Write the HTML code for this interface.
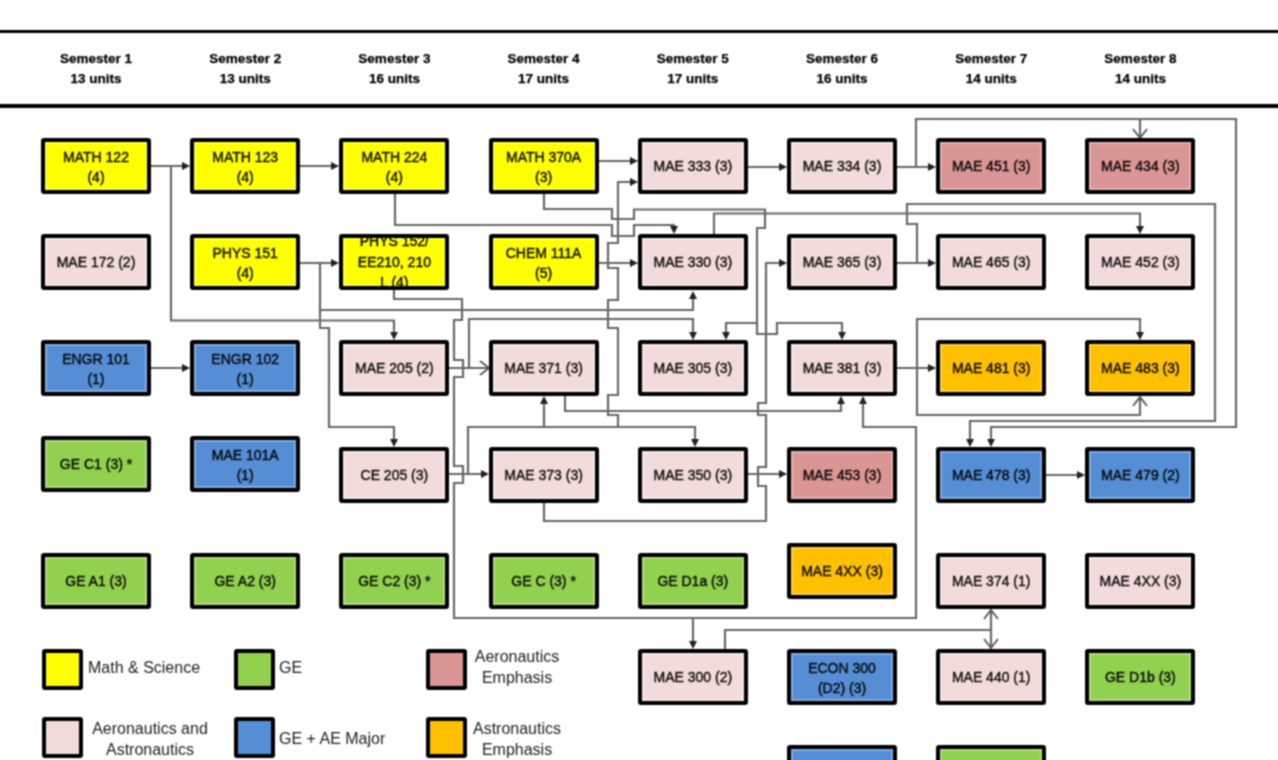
<!DOCTYPE html>
<html><head><meta charset="utf-8"><style>
html,body{margin:0;padding:0;background:#fff;}
body{width:1278px;height:760px;position:relative;overflow:hidden;font-family:"Liberation Sans",sans-serif;}
.hl{position:absolute;left:0;width:1278px;background:#000;}
.sem{position:absolute;width:150px;text-align:center;font-weight:bold;font-size:13.5px;line-height:20px;color:#000;-webkit-text-stroke:0.25px #000;}
.b{position:absolute;box-sizing:border-box;width:110px;height:56px;border:4px solid #000;border-radius:3px;box-shadow:inset 0 0 0 2px rgba(255,255,255,0.25);display:flex;align-items:center;justify-content:center;text-align:center;font-size:14px;line-height:21px;color:rgba(0,0,0,0.92);-webkit-text-stroke:0.4px rgba(0,0,0,0.92);}
.b3{line-height:20.5px;overflow:hidden;}
.b2{padding-top:2px;line-height:20px;}
.lg{position:absolute;box-sizing:border-box;width:41px;height:41px;border:4px solid #000;border-radius:3px;}
.lt{position:absolute;font-size:16px;line-height:21px;color:#1e1e1e;text-align:center;}
svg{position:absolute;left:0;top:0;}
#w{position:absolute;left:0;top:0;width:1278px;height:760px;background:#fff;filter:url(#soft);}
</style></head><body><svg width="0" height="0" style="position:absolute;left:0;top:0"><filter id="soft" x="0" y="0" width="1278" height="760" filterUnits="userSpaceOnUse" color-interpolation-filters="sRGB"><feConvolveMatrix order="3" kernelMatrix="1 2 1 2 4 2 1 2 1" divisor="16" edgeMode="duplicate"/></filter></svg><div id="w">

<div class="hl" style="top:30px;height:3px"></div>
<div class="hl" style="top:103.5px;height:4px"></div>
<div class="sem" style="left:21.0px;top:49px">Semester 1<br>13 units</div>
<div class="sem" style="left:170.2px;top:49px">Semester 2<br>13 units</div>
<div class="sem" style="left:319.4px;top:49px">Semester 3<br>16 units</div>
<div class="sem" style="left:468.6px;top:49px">Semester 4<br>17 units</div>
<div class="sem" style="left:617.8px;top:49px">Semester 5<br>17 units</div>
<div class="sem" style="left:767.0px;top:49px">Semester 6<br>16 units</div>
<div class="sem" style="left:916.2px;top:49px">Semester 7<br>14 units</div>
<div class="sem" style="left:1065.4px;top:49px">Semester 8<br>14 units</div>
<svg width="1278" height="760" viewBox="0 0 1278 760">
<g fill="none" stroke="#686868" stroke-width="2.2" stroke-linejoin="miter">
<path d="M151,166 L186,166"/>
<path d="M171,166 L171,320.5 L394,320.5 L394,334"/>
<path d="M151,368 L184,368"/>
<path d="M300,166 L335,166"/>
<path d="M300,263 L335,263"/>
<path d="M320,263 L320,310 L693,310 L693,297"/>
<path d="M320,310 L320,328 L329,328 L329,427 L394,427 L394,441"/>
<path d="M395,194 L395,225 L612,225 L612,236 L634,236 L634,225 L674,225 L674,228"/>
<path d="M599,161 L632,161"/>
<path d="M544,194 L544,209 L612,209 L612,219 L634,219 L634,209.5 L765,209.5 L765,213.5 L1140,213.5 L1140,228"/>
<path d="M714,234 L714,213.5 L765,213.5"/>
<path d="M765,212 L765,228 L757,228 L757,323 L726,323 L726,334"/>
<path d="M757,323 L757,334 L777,334 L777,323 L842,323 L842,334"/>
<path d="M599,263 L632,263"/>
<path d="M618,427 L618,415 L608,415 L608,395 L618,395 L618,328 L608,328 L608,300 L618,300 L618,268 L608,268 L608,243 L618,243 L618,182 L632,182"/>
<path d="M748,167 L781,167"/>
<path d="M897,167 L930,167"/>
<path d="M916,167 L916,119 L1236,119 L1236,427 L991,427 L991,441"/>
<path d="M1140,119 L1140,136"/>
<path d="M897,263 L930,263"/>
<path d="M917,263 L917,224 L907,224 L907,204 L1215,204 L1215,421 L970,421 L970,441"/>
<path d="M897,368 L930,368"/>
<path d="M917,368 L917,319 L1140,319 L1140,334"/>
<path d="M917,368 L917,415 L1140,415 L1140,398"/>
<path d="M1046,475 L1079,475"/>
<path d="M991,611 L991,647"/>
<path d="M725,649 L725,630 L991,630"/>
<path d="M394,290 L394,299 L462,299 L462,320 L454,320 L454,360 L463,360 L463,377 L454,377 L454,466 L463,466 L463,483 L454,483 L454,618 L916,618 L916,427 L863,427 L863,402"/>
<path d="M693,618 L693,643"/>
<path d="M449,368 L489,368"/>
<path d="M449,474 L483,474"/>
<path d="M469,368 L469,319 L693,319 L693,334"/>
<path d="M468,474 L468,427 L695,427 L695,441"/>
<path d="M544,427 L544,402"/>
<path d="M565,396 L565,411 L841,411 L841,402"/>
<path d="M544,503 L544,521 L766,521 L766,486 L758,486 L758,467 L766,467 L766,415 L758,415 L758,403 L766,403 L766,263 L781,263"/>
<path d="M748,474 L781,474"/>
</g>
<polygon points="190,166 182,162.0 182,170.0" fill="#222"/>
<polygon points="394,340 390.0,332 398.0,332" fill="#222"/>
<polygon points="190,368 182,364.0 182,372.0" fill="#222"/>
<polygon points="339,166 331,162.0 331,170.0" fill="#222"/>
<polygon points="339,263 331,259.0 331,267.0" fill="#222"/>
<polygon points="693,291 689.0,299 697.0,299" fill="#222"/>
<polygon points="394,447 390.0,439 398.0,439" fill="#222"/>
<polygon points="674,234 670.0,226 678.0,226" fill="#222"/>
<polygon points="638,161 630,157.0 630,165.0" fill="#222"/>
<polygon points="1140,234 1136.0,226 1144.0,226" fill="#222"/>
<polygon points="726,340 722.0,332 730.0,332" fill="#222"/>
<polygon points="842,340 838.0,332 846.0,332" fill="#222"/>
<polygon points="638,263 630,259.0 630,267.0" fill="#222"/>
<polygon points="638,182 630,178.0 630,186.0" fill="#222"/>
<polygon points="787,167 779,163.0 779,171.0" fill="#222"/>
<polygon points="936,167 928,163.0 928,171.0" fill="#222"/>
<polygon points="991,447 987.0,439 995.0,439" fill="#222"/>
<path d="M1133,129 L1140,138 L1147,129" fill="none" stroke="#555" stroke-width="1.8"/>
<polygon points="936,263 928,259.0 928,267.0" fill="#222"/>
<polygon points="970,447 966.0,439 974.0,439" fill="#222"/>
<polygon points="936,368 928,364.0 928,372.0" fill="#222"/>
<polygon points="1140,340 1136.0,332 1144.0,332" fill="#222"/>
<path d="M1133,406 L1140,397 L1147,406" fill="none" stroke="#555" stroke-width="1.8"/>
<polygon points="1085,475 1077,471.0 1077,479.0" fill="#222"/>
<path d="M984,619 L991,610 L998,619" fill="none" stroke="#555" stroke-width="1.8"/>
<path d="M984,639 L991,648 L998,639" fill="none" stroke="#555" stroke-width="1.8"/>
<polygon points="863,396 859.0,404 867.0,404" fill="#222"/>
<polygon points="693,649 689.0,641 697.0,641" fill="#222"/>
<path d="M480,361 L489,368 L480,375" fill="none" stroke="#555" stroke-width="1.8"/>
<polygon points="489,474 481,470.0 481,478.0" fill="#222"/>
<polygon points="693,340 689.0,332 697.0,332" fill="#222"/>
<polygon points="695,447 691.0,439 699.0,439" fill="#222"/>
<polygon points="544,396 540.0,404 548.0,404" fill="#222"/>
<polygon points="841,396 837.0,404 845.0,404" fill="#222"/>
<polygon points="787,263 779,259.0 779,267.0" fill="#222"/>
<polygon points="787,474 779,470.0 779,478.0" fill="#222"/>
</svg>
<div class="b b2" style="left:41.0px;top:138px;background:#FFFF00">MATH 122<br>(4)</div>
<div class="b" style="left:41.0px;top:234px;background:#F2DCDB">MAE 172 (2)</div>
<div class="b b2" style="left:41.0px;top:340px;background:#558ED5">ENGR 101<br>(1)</div>
<div class="b" style="left:41.0px;top:436px;background:#92D050">GE C1 (3) *</div>
<div class="b" style="left:41.0px;top:553px;background:#92D050">GE A1 (3)</div>
<div class="b b2" style="left:190.2px;top:138px;background:#FFFF00">MATH 123<br>(4)</div>
<div class="b b2" style="left:190.2px;top:234px;background:#FFFF00">PHYS 151<br>(4)</div>
<div class="b b2" style="left:190.2px;top:340px;background:#558ED5">ENGR 102<br>(1)</div>
<div class="b b2" style="left:190.2px;top:436px;background:#558ED5">MAE 101A<br>(1)</div>
<div class="b" style="left:190.2px;top:553px;background:#92D050">GE A2 (3)</div>
<div class="b b2" style="left:339.4px;top:138px;background:#FFFF00">MATH 224<br>(4)</div>
<div class="b b3" style="left:339.4px;top:234px;background:#FFFF00">PHYS 152/<br>EE210, 210<br>L (4)</div>
<div class="b" style="left:339.4px;top:340px;background:#F2DCDB">MAE 205 (2)</div>
<div class="b" style="left:339.4px;top:447px;background:#F2DCDB">CE 205 (3)</div>
<div class="b" style="left:339.4px;top:553px;background:#92D050">GE C2 (3) *</div>
<div class="b b2" style="left:488.6px;top:138px;background:#FFFF00">MATH 370A<br>(3)</div>
<div class="b b2" style="left:488.6px;top:234px;background:#FFFF00">CHEM 111A<br>(5)</div>
<div class="b" style="left:488.6px;top:340px;background:#F2DCDB">MAE 371 (3)</div>
<div class="b" style="left:488.6px;top:447px;background:#F2DCDB">MAE 373 (3)</div>
<div class="b" style="left:488.6px;top:553px;background:#92D050">GE C (3) *</div>
<div class="b" style="left:637.8px;top:138px;background:#F2DCDB">MAE 333 (3)</div>
<div class="b" style="left:637.8px;top:234px;background:#F2DCDB">MAE 330 (3)</div>
<div class="b" style="left:637.8px;top:340px;background:#F2DCDB">MAE 305 (3)</div>
<div class="b" style="left:637.8px;top:447px;background:#F2DCDB">MAE 350 (3)</div>
<div class="b" style="left:637.8px;top:553px;background:#92D050">GE D1a (3)</div>
<div class="b" style="left:637.8px;top:649px;background:#F2DCDB">MAE 300 (2)</div>
<div class="b" style="left:787.0px;top:138px;background:#F2DCDB">MAE 334 (3)</div>
<div class="b" style="left:787.0px;top:234px;background:#F2DCDB">MAE 365 (3)</div>
<div class="b" style="left:787.0px;top:340px;background:#F2DCDB">MAE 381 (3)</div>
<div class="b" style="left:787.0px;top:447px;background:#D99694">MAE 453 (3)</div>
<div class="b" style="left:787.0px;top:543px;background:#FFC000">MAE 4XX (3)</div>
<div class="b b2" style="left:787.0px;top:649px;background:#558ED5">ECON 300<br>(D2) (3)</div>
<div class="b" style="left:787.0px;top:745px;background:#558ED5"></div>
<div class="b" style="left:936.2px;top:138px;background:#D99694">MAE 451 (3)</div>
<div class="b" style="left:936.2px;top:234px;background:#F2DCDB">MAE 465 (3)</div>
<div class="b" style="left:936.2px;top:340px;background:#FFC000">MAE 481 (3)</div>
<div class="b" style="left:936.2px;top:447px;background:#558ED5">MAE 478 (3)</div>
<div class="b" style="left:936.2px;top:553px;background:#F2DCDB">MAE 374 (1)</div>
<div class="b" style="left:936.2px;top:649px;background:#F2DCDB">MAE 440 (1)</div>
<div class="b" style="left:936.2px;top:745px;background:#92D050"></div>
<div class="b" style="left:1085.4px;top:138px;background:#D99694">MAE 434 (3)</div>
<div class="b" style="left:1085.4px;top:234px;background:#F2DCDB">MAE 452 (3)</div>
<div class="b" style="left:1085.4px;top:340px;background:#FFC000">MAE 483 (3)</div>
<div class="b" style="left:1085.4px;top:447px;background:#558ED5">MAE 479 (2)</div>
<div class="b" style="left:1085.4px;top:553px;background:#F2DCDB">MAE 4XX (3)</div>
<div class="b" style="left:1085.4px;top:649px;background:#92D050">GE D1b (3)</div>
<div class="lg" style="left:42px;top:649px;background:#FFFF00"></div>
<div class="lg" style="left:42px;top:717px;background:#F2DCDB"></div>
<div class="lg" style="left:234px;top:649px;background:#92D050"></div>
<div class="lg" style="left:234px;top:717px;background:#558ED5"></div>
<div class="lg" style="left:426px;top:649px;background:#D99694"></div>
<div class="lg" style="left:426px;top:717px;background:#FFC000"></div>
<div class="lt" style="left:88px;top:657px">Math &amp; Science</div>
<div class="lt" style="left:279px;top:657px">GE</div>
<div class="lt" style="left:466px;top:646px;width:102px">Aeronautics<br>Emphasis</div>
<div class="lt" style="left:88px;top:718px;width:124px">Aeronautics and<br>Astronautics</div>
<div class="lt" style="left:279px;top:728px">GE + AE&nbsp;Major</div>
<div class="lt" style="left:466px;top:718px;width:102px">Astronautics<br>Emphasis</div>
</div></body></html>
